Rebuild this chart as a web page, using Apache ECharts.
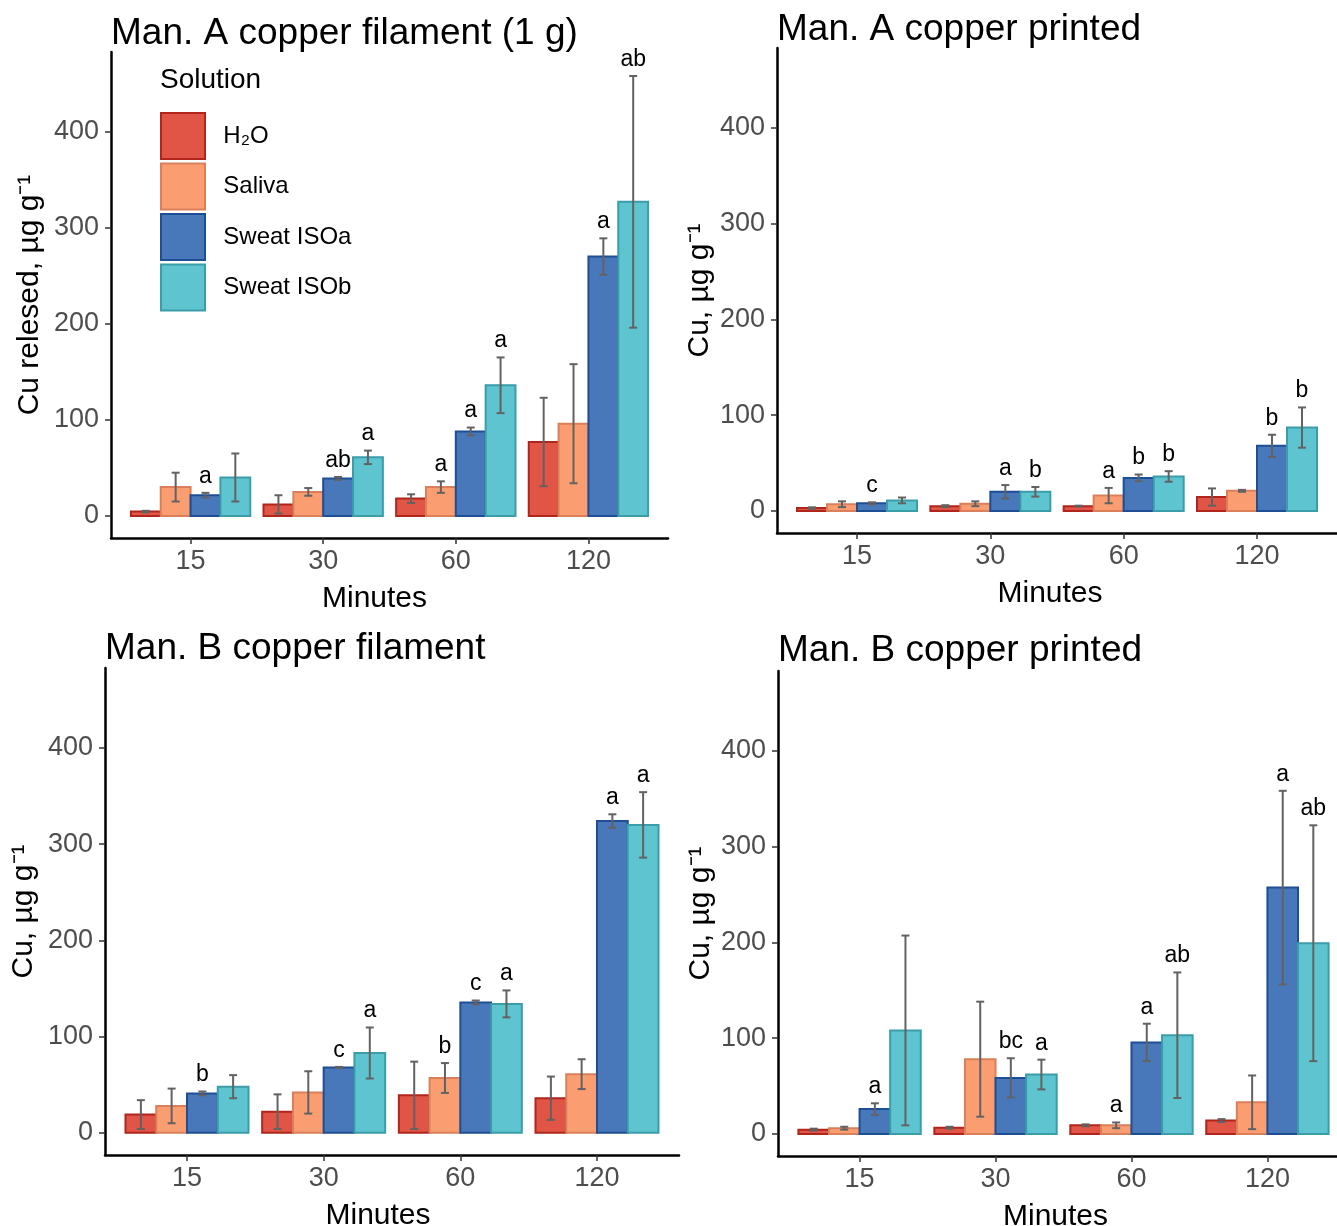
<!DOCTYPE html>
<html>
<head>
<meta charset="utf-8">
<script src="https://cdn.jsdelivr.net/npm/echarts@6/dist/echarts.min.js"></script>
<style>
  html, body { margin: 0; padding: 0; background: #fff; }
  #chart { width: 1337px; height: 1226px; }
</style>
</head>
<body>
<div id="chart"></div>
<script>
// ---------- DATA ----------
const minutes = ['15', '30', '60', '120'];
const solutions = ['H\u2082O', 'Saliva', 'Sweat ISOa', 'Sweat ISOb'];
const yTicks = [0, 100, 200, 300, 400];

// Panel 1: Man. A copper filament (1 g)   order: H2O, Saliva, ISOa, ISOb
const aFilMeans = [[4.5, 12, 18, 77], [30, 25, 30, 96], [21.5, 39, 88, 270], [40, 61, 136, 327]];
const aFilErrs  = [[0.8, 9.5, 4.5, 46], [15, 4, 6, 62], [2.5, 1.5, 4, 19], [25, 7, 29, 131]];
const aFilLetters = [['', '', '', ''], ['', '', 'a', ''], ['a', 'ab', 'a', 'a'], ['', 'a', 'a', 'ab']];

// Panel 2: Man. A copper printed
const aPrMeans = [[3, 5, 5, 14.5], [7, 7.5, 16, 21], [8, 20, 34.5, 68], [11, 20, 36, 87]];
const aPrErrs  = [[0.8, 1, 0.5, 9], [3, 2.5, 8, 1], [1, 7, 3.5, 11.5], [3, 5, 5.5, 21]];
const aPrLetters = [['', '', '', ''], ['', '', 'a', ''], ['c', 'a', 'b', 'b'], ['', 'b', 'b', 'b']];

// Panel 3: Man. B copper filament
const bFilMeans = [[19, 22, 39, 36], [28, 42, 57, 61], [41, 68, 135.5, 324], [48, 83, 134, 320]];
const bFilErrs  = [[15, 18, 35, 22.5], [18, 22, 15.5, 15.5], [2, 0.5, 2, 7], [12, 26.5, 14, 34]];
const bFilLetters = [['', '', '', ''], ['', '', 'b', ''], ['b', 'c', 'c', 'a'], ['', 'a', 'a', 'a']];

// Panel 4: Man. B copper printed
const bPrMeans = [[4.5, 6.5, 9, 14], [6, 78, 9, 33], [26, 58.5, 95.5, 257], [108, 62, 103, 199]];
const bPrErrs  = [[1, 1, 1, 1.5], [1.5, 60, 3, 28], [6, 20.5, 19.5, 101], [99, 15.5, 65.5, 123]];
const bPrLetters = [['', '', '', ''], ['', '', 'a', ''], ['a', 'bc', 'a', 'a'], ['', 'a', 'ab', 'ab']];

const panelTitles = ['Man. A copper filament (1 g)', 'Man. A copper printed', 'Man. B copper filament', 'Man. B copper printed'];
const yTitles = ['Cu relesed, \u00b5g g\u207b\u00b9', 'Cu, \u00b5g g\u207b\u00b9', 'Cu, \u00b5g g\u207b\u00b9', 'Cu, \u00b5g g\u207b\u00b9'];
const xTitle = 'Minutes';

// ---------- STYLE ----------
const FONT = '"Liberation Sans", Arial, Helvetica, sans-serif';
const fills   = ['#E05545', '#FA9E72', '#4878BA', '#5EC4CF'];
const borders = ['#B0261C', '#D9805A', '#1E4E94', '#3A9DA8'];
const BW = 0.225; // bar width in category units (0.9 / 4)

const panels = [
  { means: aFilMeans, errs: aFilErrs, letters: aFilLetters },
  { means: aPrMeans,  errs: aPrErrs,  letters: aPrLetters },
  { means: bFilMeans, errs: bFilErrs, letters: bFilLetters },
  { means: bPrMeans,  errs: bPrErrs,  letters: bPrLetters }
];

const grids = [
  { left: 111, top: 52,  width: 557, height: 486, outerBoundsMode: 'none' },
  { left: 777, top: 48,  width: 560, height: 485, outerBoundsMode: 'none' },
  { left: 105, top: 668, width: 574, height: 487, outerBoundsMode: 'none' },
  { left: 778, top: 671, width: 571, height: 485, outerBoundsMode: 'none' }
];
const yNameGaps = [66, 62, 66, 62];
const xNameShift = [30, 14, 28, 16];
const titlePos = [
  { left: 111, top: 15 },
  { left: 777, top: 11 },
  { left: 105, top: 630 },
  { left: 778, top: 632 }
];

const xAxes = grids.map((g, i) => ({
  type: 'value', gridIndex: i, min: 0.4, max: 4.6,
  name: xTitle, nameLocation: 'middle', nameGap: 46,
  nameTextStyle: { fontSize: 30, color: '#000', fontFamily: FONT, padding: [0, xNameShift[i], 0, 0] },
  axisLine: { show: true, onZero: false, lineStyle: { color: '#000', width: 2.5 } },
  axisTick: { show: true, length: 6, lineStyle: { color: '#333', width: 1.5 }, customValues: [1, 2, 3, 4] },
  axisLabel: { fontSize: 27, color: '#4d4d4d', fontFamily: FONT, margin: 10,
    customValues: [1, 2, 3, 4], formatter: v => minutes[Math.round(v) - 1] },
  splitLine: { show: false }
}));

const yAxes = grids.map((g, i) => ({
  type: 'value', gridIndex: i, min: -23, max: 483,
  name: yTitles[i], nameLocation: 'middle', nameRotate: 90, nameGap: yNameGaps[i],
  nameTextStyle: { fontSize: 30, color: '#000', fontFamily: FONT },
  axisLine: { show: true, onZero: false, lineStyle: { color: '#000', width: 2.5 } },
  axisTick: { show: true, length: 6, lineStyle: { color: '#333', width: 1.5 }, customValues: yTicks },
  axisLabel: { fontSize: 27, color: '#4d4d4d', fontFamily: FONT, margin: 12, customValues: yTicks },
  splitLine: { show: false }
}));

function makeRender(p, s) {
  const letters = panels[p].letters[s];
  return function (params, api) {
    const cat = api.value(0), m = api.value(1), e = api.value(2);
    const c = cat + (s - 1.5) * BW;
    const tl = api.coord([c - BW / 2, m]);
    const br = api.coord([c + BW / 2, 0]);
    const children = [{
      type: 'rect',
      shape: { x: tl[0], y: tl[1], width: br[0] - tl[0], height: br[1] - tl[1] },
      style: { fill: fills[s], stroke: borders[s], lineWidth: 2 }
    }];
    const top = api.coord([c, m + e]);
    const bot = api.coord([c, Math.max(m - e, 0)]);
    if (e > 0) {
      const cap = 4;
      const st = { stroke: '#626262', lineWidth: 2 };
      children.push({ type: 'line', shape: { x1: top[0], y1: top[1], x2: bot[0], y2: bot[1] }, style: st });
      children.push({ type: 'line', shape: { x1: top[0] - cap, y1: top[1], x2: top[0] + cap, y2: top[1] }, style: st });
      children.push({ type: 'line', shape: { x1: bot[0] - cap, y1: bot[1], x2: bot[0] + cap, y2: bot[1] }, style: st });
    }
    const lab = letters[params.dataIndex];
    if (lab) {
      children.push({
        type: 'text', x: top[0], y: top[1] - 5,
        style: { text: lab, fontSize: 23, fill: '#000', fontFamily: FONT, textAlign: 'center', textVerticalAlign: 'bottom' }
      });
    }
    return { type: 'group', children };
  };
}

const series = [];
panels.forEach((pn, p) => {
  solutions.forEach((name, s) => {
    series.push({
      type: 'custom', name, xAxisIndex: p, yAxisIndex: p,
      itemStyle: { color: fills[s], borderColor: borders[s] },
      encode: { x: 0, y: 1 },
      clip: false,
      data: minutes.map((_, i) => [i + 1, pn.means[s][i], pn.errs[s][i]]),
      renderItem: makeRender(p, s)
    });
  });
});

const titles = panelTitles.map((t, i) => ({
  text: t, left: titlePos[i].left, top: titlePos[i].top, padding: 0,
  textStyle: { fontSize: 37, fontWeight: 'normal', color: '#000', fontFamily: FONT }
}));
titles.push({
  text: 'Solution', left: 160, top: 66, padding: 0,
  textStyle: { fontSize: 28, fontWeight: 'normal', color: '#000', fontFamily: FONT }
});

const option = {
  animation: false,
  backgroundColor: '#fff',
  title: titles,
  legend: {
    orient: 'vertical', left: 160, top: 112, padding: 0,
    itemWidth: 44, itemHeight: 46, itemGap: 2.5, icon: 'rect',
    selectedMode: false,
    textStyle: { fontSize: 24, color: '#000', fontFamily: FONT },
    formatter: n => '  ' + n,
    data: solutions.map((n, s) => ({ name: n, itemStyle: { color: fills[s], borderColor: borders[s], borderWidth: 2 } }))
  },
  grid: grids,
  xAxis: xAxes,
  yAxis: yAxes,
  series
};

const chart = echarts.init(document.getElementById('chart'), null, { renderer: 'canvas' });
chart.setOption(option);
</script>
</body>
</html>
